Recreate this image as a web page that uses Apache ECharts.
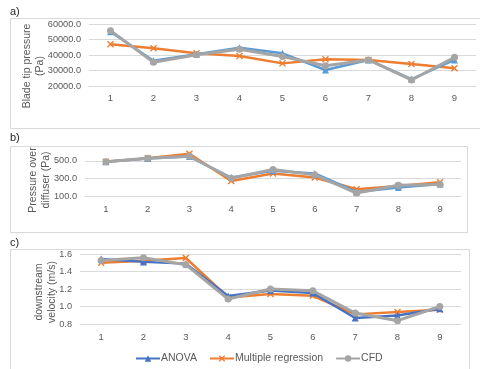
<!DOCTYPE html>
<html>
<head>
<meta charset="utf-8">
<script src="https://cdn.jsdelivr.net/npm/echarts@6/dist/echarts.min.js"></script>
<style>
  html, body { margin: 0; padding: 0; background: #fff; }
  #chart { width: 480px; height: 369px; }
</style>
</head>
<body>
<div id="chart"></div>
<script>
const categories = ["1", "2", "3", "4", "5", "6", "7", "8", "9"];
const seriesNames = ["ANOVA", "Multiple regression", "CFD"];

// a) blade tip pressure (Pa)
const bladeAnova = [55000, 36300, 40500, 44700, 41100, 30300, 36800, 24500, 36800];
const bladeRegression = [46900, 44300, 41100, 39400, 34600, 37200, 36800, 34200, 31400];
const bladeCfd = [55700, 35300, 40200, 43700, 39000, 33100, 36800, 23900, 38500];

// b) pressure over diffuser (Pa)
const diffAnova = [488, 525, 548, 310, 386, 356, 146, 196, 235];
const diffRegression = [490, 530, 580, 271, 356, 310, 177, 214, 257];
const diffCfd = [490, 530, 552, 302, 402, 340, 134, 222, 230];

// c) downstream velocity (m/s)
const velAnova = [1.543, 1.51, 1.49, 1.12, 1.184, 1.154, 0.869, 0.898, 0.975];
const velRegression = [1.50, 1.523, 1.554, 1.104, 1.143, 1.123, 0.91, 0.937, 0.963];
const velCfd = [1.527, 1.558, 1.478, 1.086, 1.2, 1.18, 0.926, 0.838, 1.0];

const FONT = "Liberation Sans";
const TXT = "#595959";
const GRID_LINE = "#d9d9d9";
const X_MARK = "path://M0,1.4L1.4,0L5,3.6L8.6,0L10,1.4L6.4,5L10,8.6L8.6,10L5,6.4L1.4,10L0,8.6L3.6,5Z";

const chart = echarts.init(document.getElementById("chart"));

function xAxis(gridIndex, margin) {
  return {
    type: "category",
    gridIndex,
    data: categories,
    boundaryGap: true,
    axisLine: { lineStyle: { color: GRID_LINE } },
    axisTick: { show: false },
    axisLabel: { color: TXT, fontSize: 9.5, fontFamily: FONT, margin },
  };
}

function yAxis(gridIndex, min, max, interval, digits, extra) {
  return Object.assign({
    type: "value",
    gridIndex,
    min, max, interval,
    axisLine: { show: false },
    axisTick: { show: false },
    splitLine: { lineStyle: { color: GRID_LINE } },
    axisLabel: {
      color: TXT, fontSize: 9.2, fontFamily: FONT, margin: 8,
      formatter: (v) => v.toFixed(digits),
    },
  }, extra || {});
}

function line(name, data, idx, color, symbol, width) {
  return {
    name,
    type: "line",
    xAxisIndex: idx,
    yAxisIndex: idx,
    data,
    symbol,
    symbolSize: 7,
    lineStyle: { color, width: width || 2.5 },
    itemStyle: { color },
    z: name === "CFD" ? 4 : name === "ANOVA" ? 3 : 2,
    animation: false,
  };
}

function titleText(x, y, text) {
  return {
    type: "text",
    x, y,
    rotation: Math.PI / 2,
    style: {
      text, fill: TXT, font: "10.5px " + FONT,
      textAlign: "center", textVerticalAlign: "middle", lineHeight: 13,
    },
  };
}

function label(x, y, text) {
  return {
    type: "text", x, y,
    style: { text, fill: "#262626", font: "11px " + FONT, textVerticalAlign: "middle" },
  };
}

function box(x, y, w, h) {
  return {
    type: "rect",
    shape: { x, y, width: w, height: h },
    style: { fill: "none", stroke: GRID_LINE, lineWidth: 1 },
    z: -1,
  };
}

const BLUE_C = "#4472C4", BLUE = "#5B9BD5", ORANGE = "#ED7D31", GRAY = "#A5A5A5";

chart.setOption({
  backgroundColor: "#fff",
  textStyle: { fontFamily: FONT },
  grid: [
    { left: 89, top: 24, width: 387, height: 62 },
    { left: 85, top: 152, width: 376, height: 44 },
    { left: 80, top: 254, width: 381, height: 70 },
  ],
  xAxis: [xAxis(0, 7), xAxis(1, 8), xAxis(2, 8)],
  yAxis: [
    yAxis(0, 20000, 60000, 10000, 1),
    yAxis(1, 100, 600, 200, 1, {
      splitLine: { lineStyle: { color: GRID_LINE }, showMaxLine: false },
    }),
    yAxis(2, 0.8, 1.6, 0.2, 1),
  ],
  legend: {
    data: seriesNames,
    left: 130,
    top: 348,
    itemWidth: 24,
    itemHeight: 8,
    itemGap: 12,
    textStyle: { color: TXT, fontSize: 10.5, fontFamily: FONT, padding: [0, 0, 0, -4] },
  },
  graphic: [
    box(10.5, 18.5, 480, 110),
    box(10.5, 146.5, 457, 86),
    box(10.5, 249.5, 459, 130),
    label(10, 12, "a)"),
    label(10, 138, "b)"),
    label(10, 243, "c)"),
    titleText(34, 66, "Blade tip pressure\n(Pa)"),
    titleText(40, 180, "Pressure over\ndiffuser (Pa)"),
    titleText(46, 292, "downstream\nvelocity (m/s)"),
  ],
  series: [
    line("ANOVA", velAnova, 2, BLUE_C, "triangle"),
    line("Multiple regression", velRegression, 2, ORANGE, X_MARK),
    line("CFD", velCfd, 2, GRAY, "circle", 3),
    line("ANOVA", bladeAnova, 0, BLUE, "triangle"),
    line("Multiple regression", bladeRegression, 0, ORANGE, X_MARK),
    line("CFD", bladeCfd, 0, GRAY, "circle", 3),
    line("ANOVA", diffAnova, 1, BLUE, "triangle"),
    line("Multiple regression", diffRegression, 1, ORANGE, X_MARK),
    line("CFD", diffCfd, 1, GRAY, "circle", 3),
  ],
});
</script>
</body>
</html>
